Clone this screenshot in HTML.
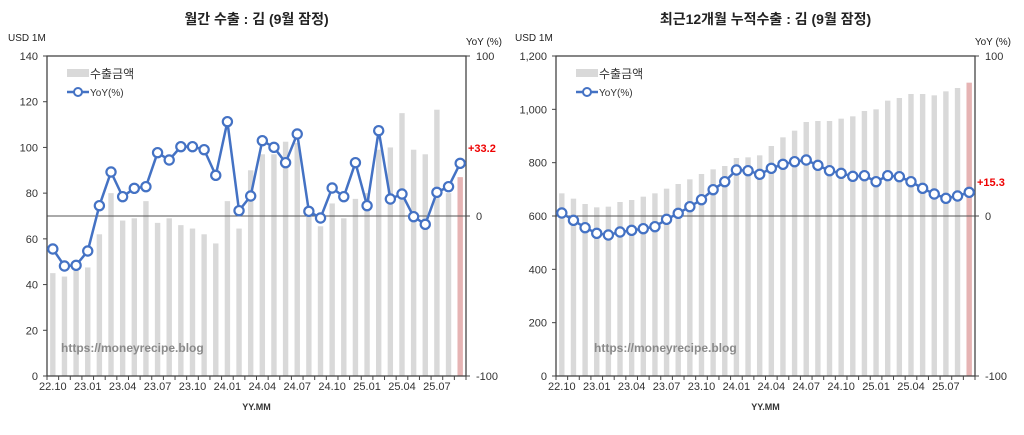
<!DOCTYPE html>
<html><head><meta charset="utf-8"><style>
body{margin:0;background:#fff;}
svg{display:block;font-family:"Liberation Sans","Noto Sans CJK KR",sans-serif;}
</style></head><body>
<svg id="s" width="1024" height="435" xmlns="http://www.w3.org/2000/svg"></svg>
<script>
const s=document.getElementById('s');let h='';
const xl=['22.10','23.01','23.04','23.07','23.10','24.01','24.04','24.07','24.10','25.01','25.04','25.07'];
function chart(o){
 const L=o.L,R=o.R,T=56,B=376,n=36,w=(R-L)/n;
 h+=`<text x="${(L+R)/2}" y="24" text-anchor="middle" font-size="14" font-weight="bold" fill="#222">${o.title}</text>`;
 h+=`<text x="${o.uX}" y="41" font-size="10" fill="#222">USD 1M</text>`;
 h+=`<text x="${R+36}" y="45" text-anchor="end" font-size="10" fill="#222">YoY (%)</text>`;
 o.bars.forEach((v,i)=>{const y=B-(v/o.max)*(B-T);h+=`<rect x="${L+i*w+w/2-2.7}" y="${y}" width="5.4" height="${B-y}" fill="${i==35?'#e6b4b4':'#d9d9d9'}"/>`;});
 h+=`<line x1="${L}" y1="216" x2="${R}" y2="216" stroke="#555" stroke-width="1"/>`;
 h+=`<rect x="${L}" y="${T}" width="${R-L}" height="${B-T}" fill="none" stroke="#444" stroke-width="1.3"/>`;
 for(let k=0;k<=o.nt;k++){const v=o.max*k/o.nt,y=B-k*(B-T)/o.nt;h+=`<text x="${L-9}" y="${y+4}" text-anchor="end" font-size="11" fill="#333">${o.fmt(v)}</text><line x1="${L-4}" y1="${y}" x2="${L}" y2="${y}" stroke="#444"/>`;}
 [[100,T],[0,216],[-100,B]].forEach(([v,y])=>{h+=`<text x="${R+10}" y="${y+4}" font-size="11" fill="#333">${v}</text><line x1="${R}" y1="${y}" x2="${R+4}" y2="${y}" stroke="#444"/>`;});
 for(let i=0;i<=n;i++)h+=`<line x1="${L+i*w}" y1="${B}" x2="${L+i*w}" y2="${B+4}" stroke="#444"/>`;
 xl.forEach((t,k)=>{h+=`<text x="${L+(3*k+0.5)*w}" y="${B+14}" text-anchor="middle" font-size="11" fill="#333">${t}</text>`;});
 h+=`<text x="${(L+R)/2}" y="${B+34}" text-anchor="middle" font-size="9" font-weight="bold" fill="#333">YY.MM</text>`;
 const pts=o.yoy.map((z,i)=>[L+(i+0.5)*w,40+z/3]);
 h+=`<polyline points="${pts.map(p=>p.join(',')).join(' ')}" fill="none" stroke="#4472c4" stroke-width="2.5"/>`;
 pts.forEach(p=>h+=`<circle cx="${p[0]}" cy="${p[1]}" r="4.6" fill="#fff" stroke="#4472c4" stroke-width="2.2"/>`);
 h+=`<text x="${R+2}" y="${o.lblY}" font-size="11" font-weight="bold" fill="#e00">${o.lbl}</text>`;
 h+=`<rect x="${L+20}" y="69" width="22" height="8" fill="#d9d9d9"/><text x="${L+43}" y="78" font-size="12" fill="#333">수출금액</text>`;
 h+=`<line x1="${L+20}" y1="92" x2="${L+42}" y2="92" stroke="#4472c4" stroke-width="2.5"/><circle cx="${L+31}" cy="92" r="4" fill="#fff" stroke="#4472c4" stroke-width="2"/><text x="${L+43}" y="96" font-size="10" fill="#333">YoY(%)</text>`;
 h+=`<text x="${o.wmX}" y="352" font-size="12" font-weight="bold" fill="#8a8a8a">https://moneyrecipe.blog</text>`;
}
chart({L:47,R:466,max:140,nt:7,fmt:v=>v,uX:8,title:'월간 수출 : 김 (9월 잠정)',
 bars:[45,43.5,46,47.5,62,80,68,69,76.5,67,69,66,64.5,62,58,76.5,64.5,90,97,97,102.5,102,72,65.5,75.5,69,77.5,80,99,100,115,99,97,116.5,80,87],
 yoy:[627,678,676,633,497,396,470,445,440,338,360,320,320,329,406,245,512,468,302,322,368,282,514,534,444,470,368,497,272,477,462,530,553,457,440,370],
 lbl:'+33.2',lblY:152,wmX:61});
chart({L:556,R:975,max:1200,nt:6,fmt:v=>v.toLocaleString('en-US'),uX:515,title:'최근12개월 누적수출 : 김 (9월 잠정)',
 bars:[460,476,492,502,500,486,480,470,460,446,432,418,402,388,378,354,352,346,318,292,272,246,243,243,236,229,213,208,182,174,162,162,166,154,144,128].map(z=>(1008-z)*1.25),
 yoy:[519,541,563,580,585,576,571,566,560,538,520,500,479,449,425,390,392,403,385,373,365,360,376,392,400,409,407,425,407,410,425,445,462,475,468,457],
 lbl:'+15.3',lblY:186,wmX:594});
s.innerHTML=h;
</script>
</body></html>
